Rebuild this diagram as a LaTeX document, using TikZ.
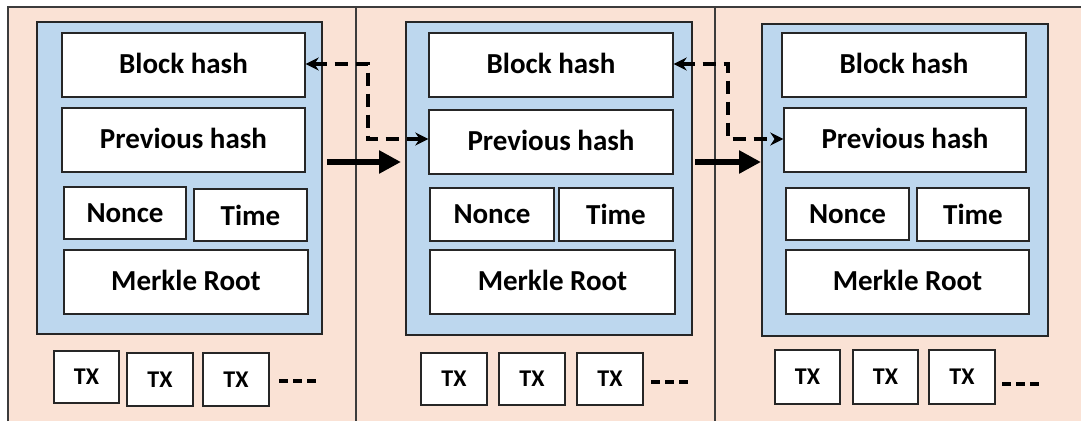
\documentclass[tikz,border=0pt]{standalone}
\usepackage{fontspec}
\setmainfont{Carlito}
\usetikzlibrary{arrows.meta}
\definecolor{peach}{HTML}{FAE2D5}
\definecolor{lblue}{HTML}{BDD7EE}
\definecolor{edge}{HTML}{262626}
\tikzset{
  box/.style={draw=edge, fill=white, line width=1.4pt, inner sep=0pt, font=\fontsize{29}{32}\selectfont\bfseries},
  txbox/.style={box, font=\fontsize{24}{26}\selectfont\bfseries},
  blockbg/.style={draw=edge, fill=lblue, line width=1.6pt},
  sep/.style={draw=edge!90, line width=1.2pt},
  chain/.style={line width=6.5pt, -{Triangle[length=22pt,width=22pt]}},
  link/.style={line width=3.2pt, dash pattern=on 13pt off 8pt, {Stealth[length=13pt,width=13pt]}-{Stealth[length=13pt,width=13pt]}},
  more/.style={line width=3.2pt, dash pattern=on 9pt off 5pt}
}
\newcommand{\up}[1]{\raisebox{4pt}{#1}}
\newcommand{\bx}[7][box]{%
  \node[#1, minimum width={(#5-#3)*1pt}, minimum height={(#6-#4)*1pt}] (#2) at ({(#3+#5)/2},{(#4+#6)/2}) {#7};}
\begin{document}
\begin{tikzpicture}[x=1pt,y=-1pt]
\useasboundingbox (0,0) rectangle (1081,423);
\fill[white] (0,0) rectangle (1081,423);
\fill[peach] (8,7) rectangle (1081,421);
\draw[sep] (8,421) -- (8,7) -- (1081,7);
\draw[sep] (356,7) -- (356,421);
\draw[sep] (715,7) -- (715,421);
% block 1
\path[blockbg] (37,22) rectangle (322,334);
\bx{bh1}{62}{33}{305}{97}{\up{Block hash}}
\bx{ph1}{62}{108}{305}{172}{\up{Previous hash}}
\bx{n1}{64}{187}{186}{239}{Nonce}
\bx{t1}{194}{189}{307}{241}{Time}
\bx{m1}{64}{250}{308}{314}{\up{Merkle Root}}
\bx[txbox]{tx11}{54}{351}{119}{403}{TX}
\bx[txbox]{tx12}{127}{353}{193}{406}{TX}
\bx[txbox]{tx13}{203}{353}{269}{406}{TX}
\coordinate (d1a) at (279,381); \coordinate (d1b) at (320,381);
\draw[more] (d1a) -- (d1b);
% block 2
\path[blockbg] (406,22) rectangle (692,335);
\bx{bh2}{429}{33}{673}{97}{\up{Block hash}}
\bx{ph2}{429}{110}{673}{174}{\up{Previous hash}}
\bx{n2}{430}{188}{554}{241}{Nonce}
\bx{t2}{559}{188}{673}{241}{Time}
\bx{m2}{430}{250}{675}{314}{\up{Merkle Root}}
\bx[txbox]{tx21}{421}{353}{487}{405}{TX}
\bx[txbox]{tx22}{499}{353}{565}{405}{TX}
\bx[txbox]{tx23}{577}{353}{643}{405}{TX}
\coordinate (d2a) at (651,382); \coordinate (d2b) at (692,382);
\draw[more] (d2a) -- (d2b);
% block 3
\path[blockbg] (762,24) rectangle (1048,336);
\bx{bh3}{782}{33}{1026}{97}{\up{Block hash}}
\bx{ph3}{784}{108}{1026}{172}{\up{Previous hash}}
\bx{n3}{786}{188}{909}{240}{Nonce}
\bx{t3}{917}{188}{1029}{241}{Time}
\bx{m3}{786}{250}{1029}{314}{\up{Merkle Root}}
\bx[txbox]{tx31}{775}{350}{840}{404}{TX}
\bx[txbox]{tx32}{853}{350}{918}{404}{TX}
\bx[txbox]{tx33}{929}{350}{995}{404}{TX}
\coordinate (d3a) at (1002,384); \coordinate (d3b) at (1043,384);
\draw[more] (d3a) -- (d3b);
% chain arrows
\coordinate (c1s) at (327,162); \coordinate (c1e) at (401,162);
\coordinate (c2s) at (695,162); \coordinate (c2e) at (761,162);
\draw[chain] (c1s) -- (c1e);
\draw[chain] (c2s) -- (c2e);
% hash links
\draw[link] (bh1.east |- 0,64) -- (368,64) -- (368,139) -- (ph2.west |- 0,139);
\draw[link] (bh2.east |- 0,64) -- (728,64) -- (728,139) -- (ph3.west |- 0,139);
\end{tikzpicture}
\end{document}
